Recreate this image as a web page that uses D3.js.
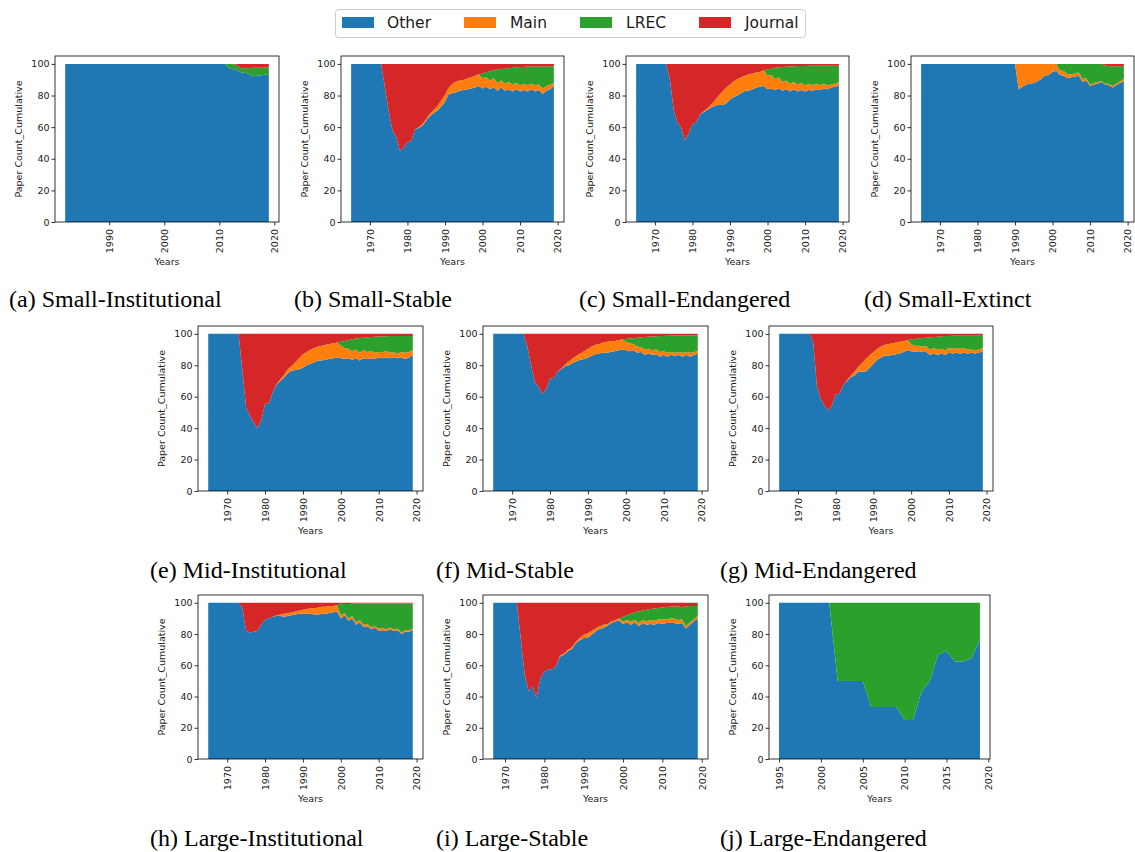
<!DOCTYPE html>
<html><head><meta charset="utf-8">
<script src="https://cdn.jsdelivr.net/npm/d3@7"></script>
<style>body{margin:0;background:#fff}</style>
</head><body>
<svg id="chart" width="1135" height="852" xmlns="http://www.w3.org/2000/svg"></svg>
<script>
// ---------------- DATA ----------------
const seriesNames = ["Other", "Main", "LREC", "Journal"];
const yTickValues = [0, 20, 40, 60, 80, 100];
const captions = ["(a) Small-Institutional", "(b) Small-Stable", "(c) Small-Endangered", "(d) Small-Extinct",
  "(e) Mid-Institutional", "(f) Mid-Stable", "(g) Mid-Endangered",
  "(h) Large-Institutional", "(i) Large-Stable", "(j) Large-Endangered"];
const startYears = [1982, 1965, 1965, 1965, 1965, 1965, 1965, 1965, 1967, 1995];
const xTickSets = [
  [1990, 2000, 2010, 2020],
  [1970, 1980, 1990, 2000, 2010, 2020], [1970, 1980, 1990, 2000, 2010, 2020], [1970, 1980, 1990, 2000, 2010, 2020],
  [1970, 1980, 1990, 2000, 2010, 2020], [1970, 1980, 1990, 2000, 2010, 2020], [1970, 1980, 1990, 2000, 2010, 2020],
  [1970, 1980, 1990, 2000, 2010, 2020], [1970, 1980, 1990, 2000, 2010, 2020],
  [1995, 2000, 2005, 2010, 2015, 2020]];

// (a) Small-Institutional 1982-2019
const aOther = [100,100,100,100,100,100,100,100,100,100, 100,100,100,100,100,100,100,100,100,100, 100,100,100,100,100,100,100,100,100,100, 97,96.5,94.5,94.3,92.2,92.5,93,93.5];
const aMain = [0,0,0,0,0,0,0,0,0,0, 0,0,0,0,0,0,0,0,0,0, 0,0,0,0,0,0,0,0,0,0, 0,0,0,0,0,0,0,0];
const aLrec = [0,0,0,0,0,0,0,0,0,0, 0,0,0,0,0,0,0,0,0,0, 0,0,0,0,0,0,0,0,0,0, 3,3.2,2.7,2.9,5.3,5,4.5,4.3];
const aJournal = [0,0,0,0,0,0,0,0,0,0, 0,0,0,0,0,0,0,0,0,0, 0,0,0,0,0,0,0,0,0,0, 0,0.3,2.8,2.8,2.5,2.5,2.5,2.2];

// (b) Small-Stable 1965-2019
const bOther = [100,100,100,100,100,100,100,100,100, 85,70,58,54,45,47,50.5,51,58.5,59.5, 61,64,67,69,70.5,73,76,81,81.5,82, 83,83.5,84,84.5,85,86,84.5,85.5,84,85, 83,85,83,84,82.5,84,82.5,83.5,82.5,84, 82.5,83.5,81,83,84,86];
const bMain = [0,0,0,0,0,0,0,0,0, 0,0,0,0,0,0,0,0,0,0.5, 1,1,1.5,2,3,4,4.5,4,6,7, 6.5,6.5,7,7,7.5,7.5,6.5,6,5.5,6, 5,4.5,4.5,4.5,4.5,4,4,4,4,3.5, 4,3.5,3.5,3,3,2];
const bLrec = [0,0,0,0,0,0,0,0,0, 0,0,0,0,0,0,0,0,0,0, 0,0,0,0,0,0,0,0,0,0, 0,0,0,0,0,0,3,3.3,6,5, 8.5,7.3,9.5,8.8,10.5,9.7,11.5,10.6,11.8,10.8, 11.8,11.3,13.8,12.3,11.3,10.3];
const bJournal = [0,0,0,0,0,0,0,0,0, 15,30,42,46,55,53,49.5,49,41.5,40, 38,35,31.5,29,26.5,23,19.5,15,12.5,11, 10.5,10,9,8.5,7.5,6.5,6,5.2,4.5,4, 3.5,3.2,3,2.7,2.5,2.3,2,1.9,1.7,1.7, 1.7,1.7,1.7,1.7,1.7,1.7];

// (c) Small-Endangered 1965-2019
const cOther = [100,100,100,100,100,100,100,100,100, 90,71,63,59.5,51.5,56,62,63,68,69.5, 71,72.5,73.5,74,74,75,77.5,79,80,81.5, 83,83,84,85,85.5,86,84,84.5,83.5,84.5, 83,84,82.5,84,82.5,83.5,82.5,83.5,83,84, 83.5,84.5,84,85,85.5,86.5];
const cMain = [0,0,0,0,0,0,0,0,0, 0,0,0,0,0,0,0,0,0,0.5, 1,2,3.5,6,8.5,10,9.5,10,10.5,10, 9.5,10.5,10,9.5,9.5,10,8.5,8.5,7,7, 5.5,5.5,5,4.5,4.5,4.5,4,4,3.5,3.5, 3,3,2.5,2,2,2];
const cLrec = [0,0,0,0,0,0,0,0,0, 0,0,0,0,0,0,0,0,0,0, 0,0,0,0,0,0,0,0,0,0, 0,0,0,0,0,0,4,4,7,6.3, 9.5,8.7,10.8,10,11.6,10.7,12.2,11.3,12.3,11.3, 12.3,11.3,12.3,11.8,11.3,10.1];
const cJournal = [0,0,0,0,0,0,0,0,0, 10,29,37,40.5,48.5,44,38,37,32,30, 28,25.5,23,20,17.5,15,13,11,9.5,8.5, 7.5,6.5,6,5.5,5,4,3.5,3,2.5,2.2, 2,1.8,1.7,1.5,1.4,1.3,1.3,1.2,1.2,1.2, 1.2,1.2,1.2,1.2,1.2,1.4];

// (d) Small-Extinct 1965-2019
const dOther = [100,100,100,100,100,100,100,100,100,100, 100,100,100,100,100,100,100,100,100,100, 100,100,100,100,100,100, 84,85.5,87,87.5,88,89,90.5,92.5,93,95, 95.5,93,92.5,91,91.5,92,92.5,88.5,89.5,86, 87,87.5,88.5,87,86.5,85,86.5,88,89];
const dMain = [0,0,0,0,0,0,0,0,0,0, 0,0,0,0,0,0,0,0,0,0, 0,0,0,0,0,0, 16,14.5,13,12.5,12,11,9.5,7.5,7,5, 4.5,3,3,2.5,2,2,2,2,1.5,1, 1,1,0.5,0.5,1,1,1,1,1.5];
const dLrec = [0,0,0,0,0,0,0,0,0,0, 0,0,0,0,0,0,0,0,0,0, 0,0,0,0,0,0, 0,0,0,0,0,0,0,0,0,0, 0,4,4.5,6.5,6.5,6,5.5,9.5,9,13, 12,11.5,11,11.5,11,12.5,11,9.5,8];
const dJournal = [0,0,0,0,0,0,0,0,0,0, 0,0,0,0,0,0,0,0,0,0, 0,0,0,0,0,0, 0,0,0,0,0,0,0,0,0,0, 0,0,0,0,0,0,0,0,0,0, 0,0,0,1,1.5,1.5,1.5,1.5,1.5];

// (e) Mid-Institutional 1965-2019
const eOther = [100,100,100,100,100,100,100,100,100, 77,53,48,43.5,40,45,55.5,55.5,63,67.5, 70,72,75,76.5,77,77.5,78.5,80,81,82, 83,83,83.5,84,84.5,85,84.5,84,84.5,83.5, 84.5,83,84.5,84,84.5,84,85,84.5,85,84.5, 85,84.5,85,84,85,86.5];
const eMain = [0,0,0,0,0,0,0,0,0, 0,0,0,0,0,0,0,0,0,0.5, 1,2,2.5,3,5,7,8.5,8.5,9,9, 9,9.5,9.5,9.5,9.5,9.5,8,7,6,5.5, 5.5,5,5,4.5,4.5,4,3.5,4,4,3.5, 3.5,3,3.5,4,3.5,3];
const eLrec = [0,0,0,0,0,0,0,0,0, 0,0,0,0,0,0,0,0,0,0, 0,0,0,0,0,0,0,0,0,0, 0,0,0,0,0,0,2.5,4.5,5.5,7.5, 7,9.3,8,9.3,9,10.2,9.8,9.9,9.5,10.6, 10.1,11.1,10.1,10.6,10.1,9.1];
const eJournal = [0,0,0,0,0,0,0,0,0, 23,47,52,56.5,60,55,44.5,44.5,37,32, 29,26,22.5,20.5,18,15.5,13,11.5,10,9, 8,7.5,7,6.5,6,5.5,5,4.5,4,3.5, 3,2.7,2.5,2.2,2,1.8,1.7,1.6,1.5,1.4, 1.4,1.4,1.4,1.4,1.4,1.4];

// (f) Mid-Stable 1965-2019
const fOther = [100,100,100,100,100,100,100,100,100, 92,80,69,66.5,61.5,65,71.5,72,76,77.5, 79.5,80,81.5,82.5,83.5,84,85,86,87,87.5, 88,88,88.5,89,89.5,90,89.5,89,89.5,88, 88.5,86.5,87.5,86.5,87,85.5,86.5,85.5,86.5,86, 86.5,85.5,86.5,85.5,86.5,87.5];
const fMain = [0,0,0,0,0,0,0,0,0, 0,0,0,0,0,0,0,0,0,0.5, 1,2.5,3,3.5,4,5,5.5,6,6,6, 6.5,7,7,6.5,6.5,6.5,5.5,5,4,4, 3,3.5,3,3,3,3,2.5,2.5,2,2, 2,2.5,2,2.5,2,1.5];
const fLrec = [0,0,0,0,0,0,0,0,0, 0,0,0,0,0,0,0,0,0,0, 0,0,0,0,0,0,0,0,0,0, 0,0,0,0,0,0,1.7,3,3.7,5.5, 6.2,8,7.7,8.8,8.5,10.1,9.7,10.8,10.3,10.9, 10.4,10.9,10.4,10.9,10.4,10];
const fJournal = [0,0,0,0,0,0,0,0,0, 8,20,31,33.5,38.5,35,28.5,28,24,22, 19.5,17.5,15.5,14,12.5,11,9.5,8,7,6.5, 5.5,5,4.5,4.5,4,3.5,3.3,3,2.8,2.5, 2.3,2,1.8,1.7,1.5,1.4,1.3,1.2,1.2,1.1, 1.1,1.1,1.1,1.1,1.1,1];

// (g) Mid-Endangered 1965-2019
const gOther = [100,100,100,100,100,100,100,100,100, 95,67,58.5,54.5,51,54.5,61.5,62,67.5,70, 72.5,73.5,76,76,76,78.5,81,83.5,85,86, 86,86.5,87,87.5,88.5,89.5,89,88.5,89,88.5, 88.5,86.5,87.5,86.5,87.5,86.5,88,87.5,88,87.5, 88,87.5,88,87.5,88,89];
const gMain = [0,0,0,0,0,0,0,0,0, 0,0,0,0,0,0,0,0,0,0.5, 1,2.5,3,5.5,8,8,7.5,7,7,7, 7.5,7.5,7.5,7.5,7,6.5,4.5,4,3.5,3.5, 3.5,3.5,3.5,3.5,3,3,3,3,3,3, 3,2.5,2,2,2,2];
const gLrec = [0,0,0,0,0,0,0,0,0, 0,0,0,0,0,0,0,0,0,0, 0,0,0,0,0,0,0,0,0,0, 0,0,0,0,0,0,3,4.3,4.5,5.3, 5.5,7.8,7,8.2,8,9.1,7.7,8.3,7.8,8.3, 7.8,8.8,8.8,9.3,8.8,7.8];
const gJournal = [0,0,0,0,0,0,0,0,0, 5,33,41.5,45.5,49,45.5,38.5,38,32.5,29.5, 26.5,24,21,18.5,16,13.5,11.5,9.5,8,7, 6.5,6,5.5,5,4.5,4,3.5,3.2,3,2.7, 2.5,2.2,2,1.8,1.5,1.4,1.3,1.2,1.2,1.2, 1.2,1.2,1.2,1.2,1.2,1.2];

// (h) Large-Institutional 1965-2019
const hOther = [100,100,100,100,100,100,100,100,100, 97,82,81,81.5,82,86,89.5,90,91,91.5, 91.5,91,91.5,92,92.5,93,93,93,93,92.5, 92.5,93,93,93.5,94,94.5,90,92,88.5,90, 86,87.5,84.5,85,83,84,82,82.5,82,83, 82,82.5,80,81.5,81.5,82.5];
const hMain = [0,0,0,0,0,0,0,0,0, 0,0,0,0,0,0,0,0,0,0.5, 1,2,2,2,2,2,2.5,3,3.5,4, 4.5,4.5,4.5,4.5,4,4,2,1.5,1.5,1.5, 1.5,1.5,1.5,1.5,1.5,1,1.5,1.5,1,1, 1,1,1,1,1,1];
const hLrec = [0,0,0,0,0,0,0,0,0, 0,0,0,0,0,0,0,0,0,0, 0,0,0,0,0,0,0,0,0,0, 0,0,0,0,0,0,7,5.7,9.3,7.9, 12,10.5,13.5,13,15,14.5,16,15.5,16.5,15.5, 16.5,16,18.5,17,17,16];
const hJournal = [0,0,0,0,0,0,0,0,0, 3,18,19,18.5,18,14,10.5,10,9,8, 7.5,7,6.5,6,5.5,5,4.5,4,3.5,3.5, 3,2.5,2.5,2,2,1.5,1,0.8,0.7,0.6, 0.5,0.5,0.5,0.5,0.5,0.5,0.5,0.5,0.5,0.5, 0.5,0.5,0.5,0.5,0.5,0.5];

// (i) Large-Stable 1967-2019
const iOther = [100,100,100,100,100,100,100, 77,54,43.3,46.5,39,51.8,56,57.5,57.5,59.7, 65.7,66.7,69,70.4,74.2,76,77.4,77.4,79.5,81.7, 83.2,83.8,85.3,87,88,88.7,86.5,87.5,86,87.5, 85,87,86,86.5,86,87,86.5,87,87,87, 86.5,87,83.5,86,88,90];
const iMain = [0,0,0,0,0,0,0, 0,0,0,0,0,0,0,0,0,0, 0.5,0.8,1,1.1,0.8,1.5,2.1,3.1,2.5,1.8, 1.8,2.2,1.2,1,1,1.3,1.5,1.5,2,1.5, 2,2,2,2.5,2.5,2.5,3,2.5,3,3, 2.5,2.5,1.5,1.5,1.5,1.5];
const iLrec = [0,0,0,0,0,0,0, 0,0,0,0,0,0,0,0,0,0, 0,0,0,0,0,0,0,0,0,0, 0,0,0,0,0,0,3,3,5,5, 7.5,6,7.5,7,7.8,7.1,7.5,7.8,7.5,7.7, 8.8,7.7,12.8,10.5,8.5,6.5];
const iJournal = [0,0,0,0,0,0,0, 23,46,56.7,53.5,61,48.2,44,42.5,42.5,40.3, 33.8,32.5,30,28.5,25,22.5,20.5,19.5,18,16.5, 15,14,13.5,12,11,10,9,8,7,6, 5.5,5,4.5,4,3.7,3.4,3,2.7,2.5,2.3, 2.2,2.8,2.2,2,2,2];

// (j) Large-Endangered 1995-2019
const jOther = [100,100,100,100,100,100,100, 50,50,50,50,33.3,33.3,33.3,33.3,25,25,42.9,50,66.7,69.2,62.5,62.5,64.7,76];
const jMain = [0,0,0,0,0,0,0, 0,0,0,0,0,0,0,0,0,0,0,0,0,0,0,0,0,0];
const jLrec = [0,0,0,0,0,0,0, 50,50,50,50,66.7,66.7,66.7,66.7,75,75,57.1,50,33.3,30.8,37.5,37.5,35.3,24];
const jJournal = [0,0,0,0,0,0,0, 0,0,0,0,0,0,0,0,0,0,0,0,0,0,0,0,0,0];

const panelSeries = [
  [aOther, aMain, aLrec, aJournal], [bOther, bMain, bLrec, bJournal], [cOther, cMain, cLrec, cJournal],
  [dOther, dMain, dLrec, dJournal], [eOther, eMain, eLrec, eJournal], [fOther, fMain, fLrec, fJournal],
  [gOther, gMain, gLrec, gJournal], [hOther, hMain, hLrec, hJournal], [iOther, iMain, iLrec, iJournal],
  [jOther, jMain, jLrec, jJournal]];

// ---------------- STYLE / LAYOUT ----------------
const seriesColors = ["#1f77b4", "#ff7f0e", "#2ca02c", "#d62728"];
const axesBoxes = [
  {x: 55, y: 56, w: 224, h: 166}, {x: 341, y: 56, w: 223, h: 166}, {x: 626, y: 56, w: 223, h: 166}, {x: 911, y: 56, w: 223, h: 166},
  {x: 198, y: 326, w: 225, h: 165}, {x: 483, y: 326, w: 225, h: 165}, {x: 769, y: 326, w: 224, h: 165},
  {x: 198, y: 595, w: 225, h: 164}, {x: 483, y: 595, w: 225, h: 164}, {x: 769, y: 595, w: 221, h: 164}];
const captionPos = [
  {x: 9, y: 307}, {x: 294, y: 307}, {x: 579, y: 307}, {x: 864, y: 307},
  {x: 150, y: 578}, {x: 436, y: 578}, {x: 720, y: 578},
  {x: 150, y: 846}, {x: 436, y: 846}, {x: 720, y: 846}];
const sansFont = "'DejaVu Sans', sans-serif";
const serifFont = "'Liberation Serif', 'Times New Roman', serif";
const inkColor = "#1a1a1a";

const svg = d3.select("#chart");

panelSeries.forEach((series, pi) => {
  const box = axesBoxes[pi];
  const n = series[0].length;
  const years = d3.range(startYears[pi], startYears[pi] + n);
  const rows = years.map((yr, j) => {
    const r = {year: yr};
    seriesNames.forEach((k, s) => r[k] = series[s][j]);
    return r;
  });
  const stacked = d3.stack().keys(seriesNames).offset(d3.stackOffsetExpand)(rows);
  const x0 = years[0], x1 = years[n - 1], pad = (x1 - x0) * 0.05;
  const x = d3.scaleLinear().domain([x0 - pad, x1 + pad]).range([box.x, box.x + box.w]);
  const y = d3.scaleLinear().domain([0, 105]).range([box.y + box.h, box.y]);

  const g = svg.append("g");
  const clipId = "clip" + pi;
  g.append("clipPath").attr("id", clipId).append("rect")
    .attr("x", box.x).attr("y", box.y).attr("width", box.w).attr("height", box.h);

  const area = d3.area()
    .x(d => x(d.data.year))
    .y0(d => y(d[0] * 100))
    .y1(d => y(d[1] * 100));

  g.append("g").attr("clip-path", `url(#${clipId})`)
    .selectAll("path").data(stacked).join("path")
    .attr("d", area)
    .attr("fill", (d, i) => seriesColors[i]);

  // axes
  const yAxis = g.append("g").attr("transform", `translate(${box.x},0)`)
    .call(d3.axisLeft(y).tickValues(yTickValues).tickSize(3.5).tickPadding(2));
  const xAxis = g.append("g").attr("transform", `translate(0,${box.y + box.h})`)
    .call(d3.axisBottom(x).tickValues(xTickSets[pi]).tickFormat(d3.format("d")).tickSize(3.5));
  [yAxis, xAxis].forEach(ax => {
    ax.select(".domain").remove();
    ax.selectAll("line").attr("stroke", "#000").attr("stroke-width", 0.8);
    ax.selectAll("text").attr("fill", inkColor).style("font-family", sansFont).style("font-size", "9.5px");
  });
  xAxis.selectAll("text")
    .attr("transform", "rotate(-90)")
    .attr("text-anchor", "end")
    .attr("x", -7).attr("y", 0).attr("dy", "0.35em");

  // frame
  g.append("rect").attr("x", box.x).attr("y", box.y).attr("width", box.w).attr("height", box.h)
    .attr("fill", "none").attr("stroke", "#000").attr("stroke-width", 0.8);

  // axis labels
  g.append("text")
    .attr("transform", `translate(${box.x - 33},${box.y + box.h / 2}) rotate(-90)`)
    .attr("text-anchor", "middle")
    .attr("fill", inkColor).style("font-family", sansFont).style("font-size", "9.5px")
    .text("Paper Count_Cumulative");
  g.append("text")
    .attr("x", box.x + box.w / 2).attr("y", box.y + box.h + 43)
    .attr("text-anchor", "middle")
    .attr("fill", inkColor).style("font-family", sansFont).style("font-size", "9.5px")
    .text("Years");

  // caption
  svg.append("text")
    .attr("x", captionPos[pi].x).attr("y", captionPos[pi].y)
    .attr("fill", "#000").style("font-family", serifFont).style("font-size", "24px")
    .text(captions[pi]);
});

// legend
const legendPatchX = [342, 464, 580, 699];
const legendTextX = [387, 510, 626, 745];
const legend = svg.append("g");
legend.append("rect").attr("x", 335.5).attr("y", 9.5).attr("width", 470).attr("height", 28).attr("rx", 3)
  .attr("fill", "#fff").attr("stroke", "#cccccc").attr("stroke-width", 1);
seriesNames.forEach((name, i) => {
  legend.append("rect").attr("x", legendPatchX[i]).attr("y", 17).attr("width", 32).attr("height", 11)
    .attr("fill", seriesColors[i]);
  legend.append("text").attr("x", legendTextX[i]).attr("y", 28)
    .attr("fill", inkColor).style("font-family", sansFont).style("font-size", "15.5px")
    .text(name);
});
</script>
</body></html>
